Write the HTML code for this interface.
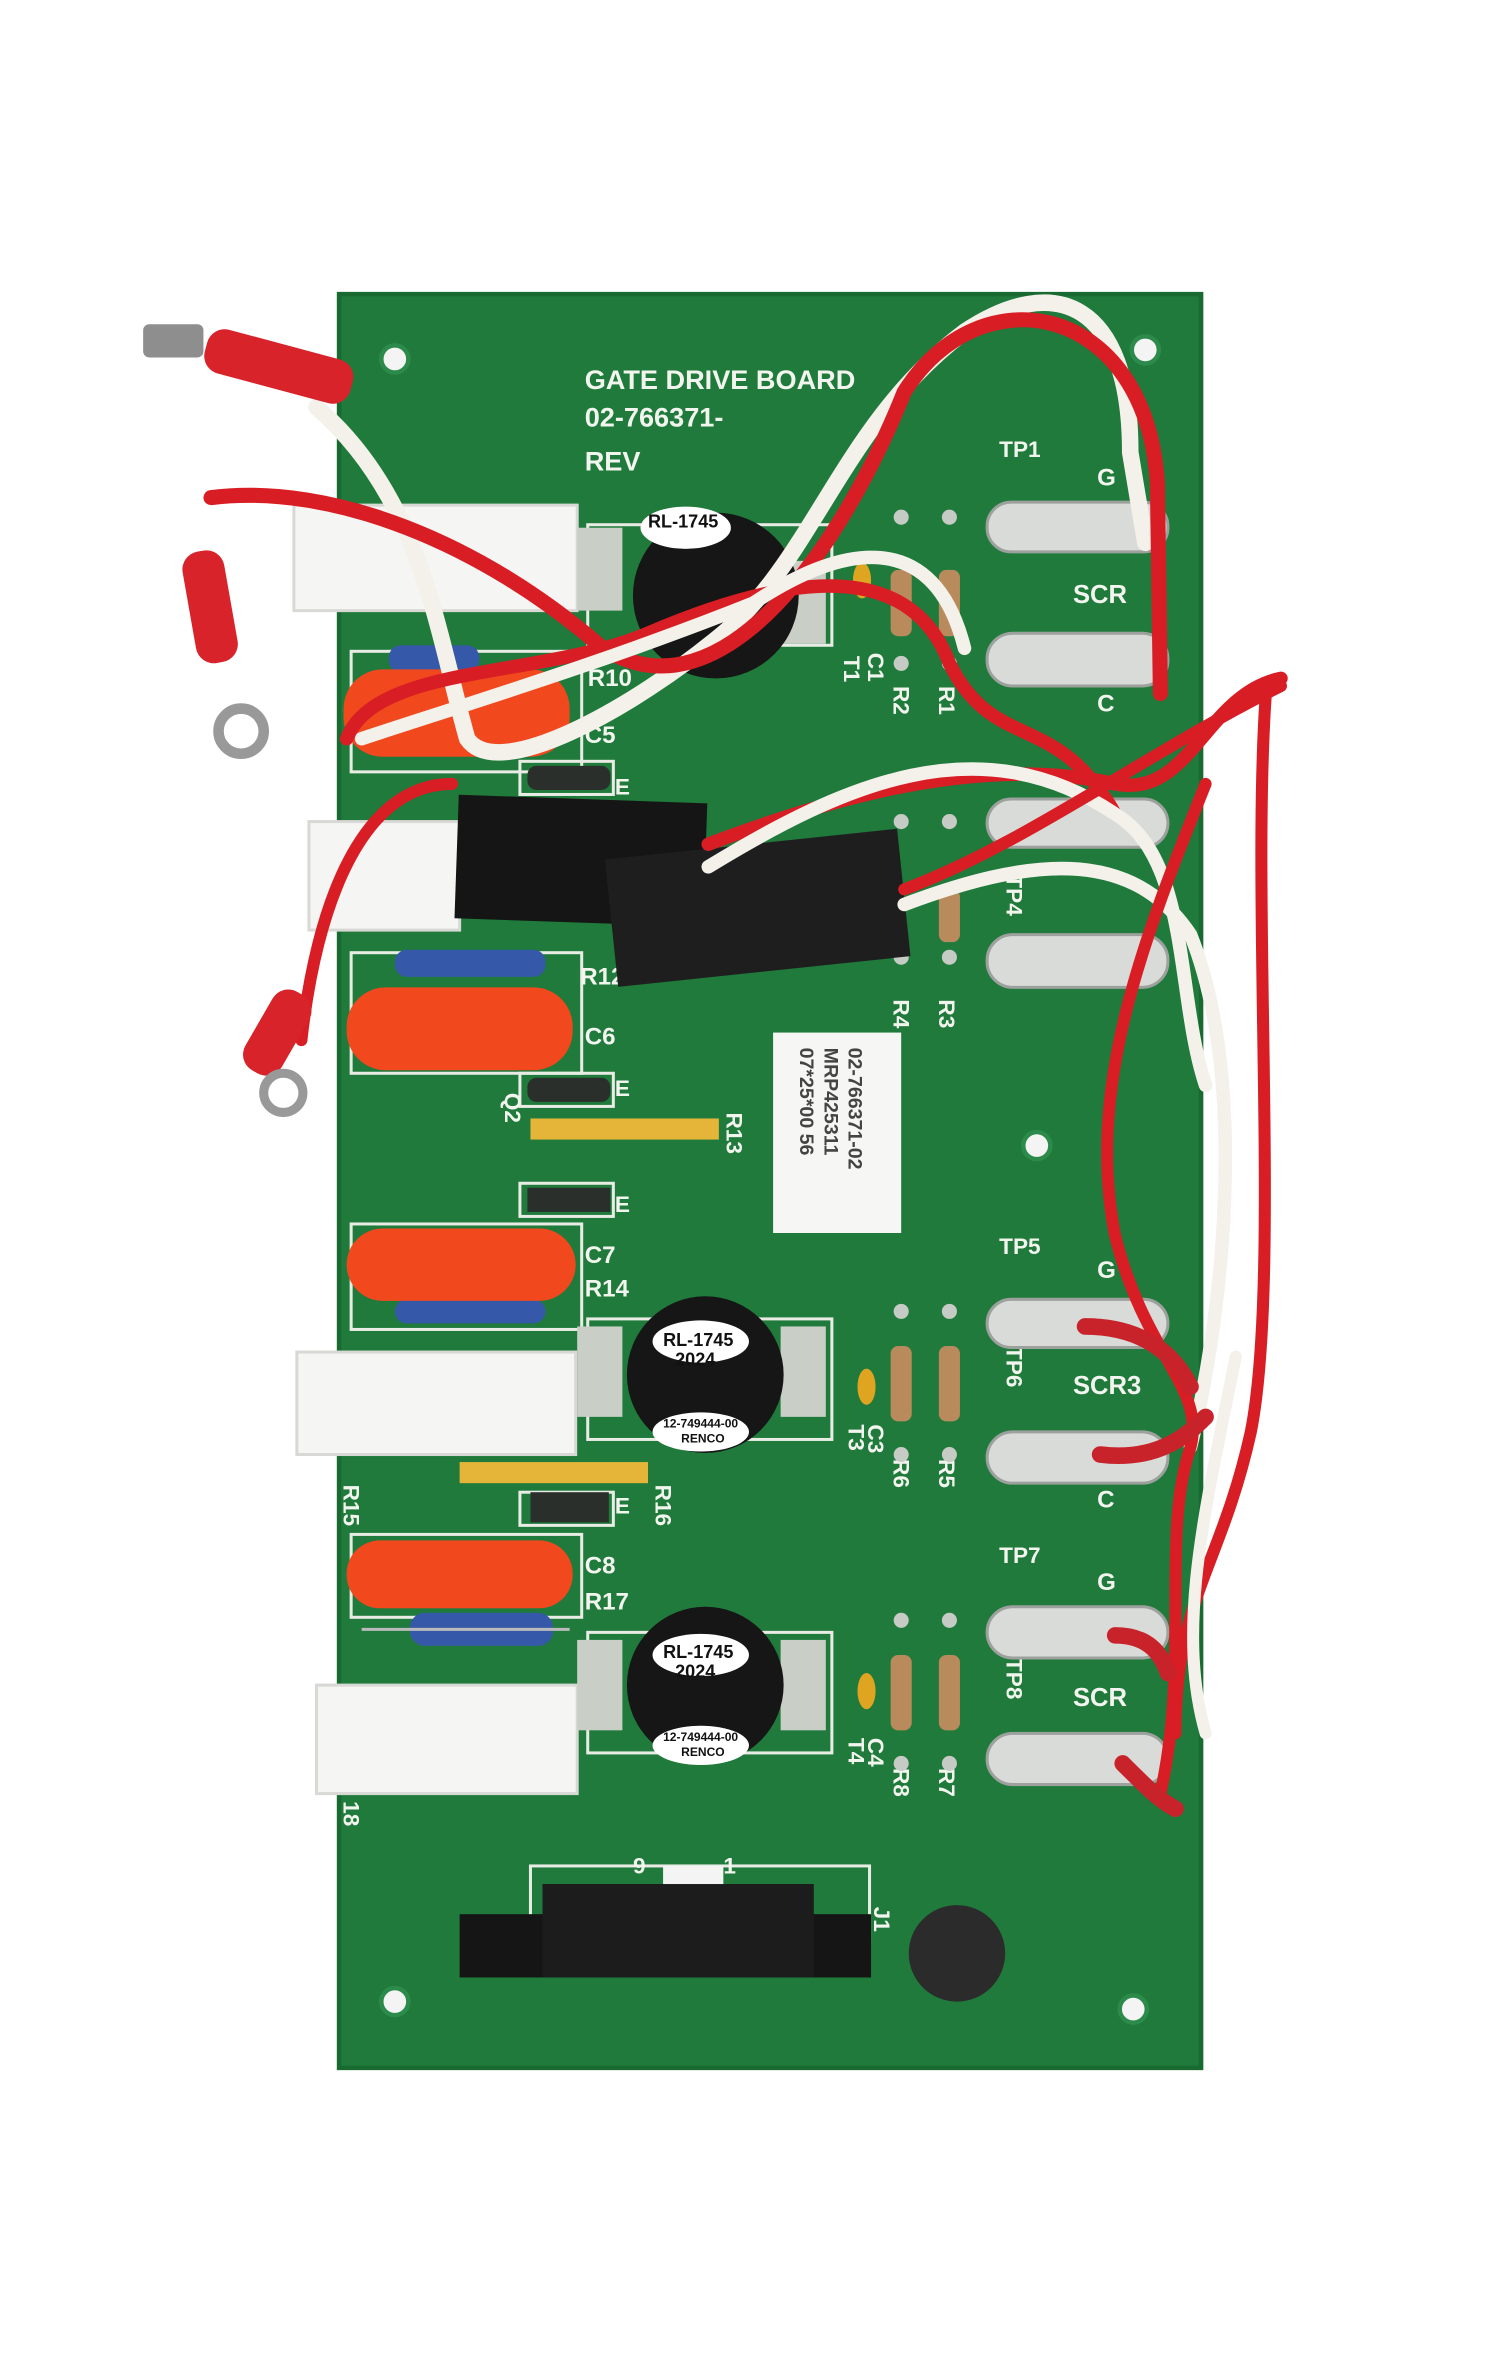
<!DOCTYPE html>
<html><head><meta charset="utf-8"><style>
html,body{margin:0;padding:0;background:#fff;}
svg{display:block}
text{font-family:"Liberation Sans",sans-serif;font-weight:bold;fill:#f2f4ee}
</style></head><body>
<svg width="1507" height="2356" viewBox="0 0 1000 1563" xmlns="http://www.w3.org/2000/svg">
<rect width="1000" height="1563" fill="#fff"/>
<!-- board -->
<rect x="225" y="195" width="572" height="1177" fill="#1f7a3b"/>
<rect x="225" y="195" width="572" height="1177" fill="none" stroke="#186a31" stroke-width="3"/>
<!-- holes -->
<g fill="#f4f4f4" stroke="#2c8a4a" stroke-width="3">
<circle cx="262" cy="238" r="9"/><circle cx="760" cy="232" r="9"/><circle cx="688" cy="760" r="9"/>
<circle cx="262" cy="1328" r="9"/><circle cx="752" cy="1333" r="9"/></g>
<!-- silkscreen outlines -->
<g fill="none" stroke="#e8ece4" stroke-width="2">
<rect x="233" y="432" width="153" height="80"/><rect x="233" y="632" width="153" height="80"/>
<rect x="233" y="812" width="153" height="70"/><rect x="233" y="1018" width="153" height="55"/>
<rect x="345" y="505" width="62" height="22"/><rect x="345" y="712" width="62" height="22"/>
<rect x="345" y="785" width="62" height="22"/><rect x="345" y="990" width="62" height="22"/>
<rect x="390" y="875" width="162" height="80"/><rect x="390" y="1083" width="162" height="80"/>
<rect x="390" y="348" width="162" height="80"/>
<rect x="352" y="1238" width="225" height="50"/>
</g>
<!-- text -->
<text x="388" y="258" font-size="18">GATE DRIVE BOARD</text>
<text x="388" y="283" font-size="18">02-766371-</text>
<text x="388" y="312" font-size="18">REV</text>
<text x="663" y="303" font-size="15">TP1</text><text x="728" y="322" font-size="16">G</text>
<text x="712" y="400" font-size="17">SCR</text><text x="728" y="472" font-size="16">C</text>
<text x="390" y="455" font-size="16">R10</text><text x="388" y="493" font-size="16">C5</text>
<text x="408" y="527" font-size="15">E</text>
<text x="385" y="653" font-size="16">R12</text><text x="388" y="693" font-size="16">C6</text>
<text x="408" y="727" font-size="15">E</text><text x="408" y="804" font-size="15">E</text>
<text x="388" y="838" font-size="16">C7</text><text x="388" y="860" font-size="16">R14</text>
<text x="408" y="1004" font-size="15">E</text>
<text x="388" y="1044" font-size="16">C8</text><text x="388" y="1068" font-size="16">R17</text>
<text x="663" y="832" font-size="15">TP5</text><text x="728" y="848" font-size="16">G</text>
<text x="712" y="925" font-size="17">SCR3</text><text x="728" y="1000" font-size="16">C</text>
<text x="663" y="1037" font-size="15">TP7</text><text x="728" y="1055" font-size="16">G</text>
<text x="712" y="1132" font-size="17">SCR</text>
<text x="420" y="1243" font-size="15">9</text><text x="480" y="1243" font-size="15">1</text>
<g font-size="15">
<text transform="translate(560,435) rotate(90)">T1</text><text transform="translate(563,433) rotate(90)" x="0" y="0"></text>
<text transform="translate(576,433) rotate(90)">C1</text><text transform="translate(593,455) rotate(90)">R2</text><text transform="translate(623,455) rotate(90)">R1</text>
<text transform="translate(593,663) rotate(90)">R4</text><text transform="translate(623,663) rotate(90)">R3</text>
<text transform="translate(563,945) rotate(90)">T3</text><text transform="translate(576,945) rotate(90)">C3</text>
<text transform="translate(593,968) rotate(90)">R6</text><text transform="translate(623,968) rotate(90)">R5</text>
<text transform="translate(563,1153) rotate(90)">T4</text><text transform="translate(576,1153) rotate(90)">C4</text>
<text transform="translate(593,1173) rotate(90)">R8</text><text transform="translate(623,1173) rotate(90)">R7</text>
<text transform="translate(482,738) rotate(90)">R13</text><text transform="translate(435,985) rotate(90)">R16</text>
<text transform="translate(330,815) rotate(90)">Q3</text><text transform="translate(335,725) rotate(90)">Q2</text>
<text transform="translate(580,1265) rotate(90)">J1</text>
<text transform="translate(228,985) rotate(90)">R15</text><text transform="translate(228,1195) rotate(90)">18</text>
<text transform="translate(668,420) rotate(90)">TP2</text><text transform="translate(668,580) rotate(90)">TP4</text>
<text transform="translate(668,893) rotate(90)">TP6</text><text transform="translate(668,1100) rotate(90)">TP8</text>
</g>
<!-- resistor pads / resistors -->
<g fill="#c7cbc5"><circle cx="598" cy="343" r="5"/><circle cx="598" cy="440" r="5"/><circle cx="630" cy="343" r="5"/><circle cx="630" cy="440" r="5"/>
<circle cx="598" cy="545" r="5"/><circle cx="598" cy="635" r="5"/><circle cx="630" cy="545" r="5"/><circle cx="630" cy="635" r="5"/>
<circle cx="598" cy="870" r="5"/><circle cx="598" cy="965" r="5"/><circle cx="630" cy="870" r="5"/><circle cx="630" cy="965" r="5"/>
<circle cx="598" cy="1075" r="5"/><circle cx="598" cy="1170" r="5"/><circle cx="630" cy="1075" r="5"/><circle cx="630" cy="1170" r="5"/></g>
<g fill="#b98b5c"><rect x="591" y="378" width="14" height="44" rx="5"/><rect x="623" y="378" width="14" height="44" rx="5"/>
<rect x="623" y="590" width="14" height="35" rx="5"/>
<rect x="591" y="893" width="14" height="50" rx="5"/><rect x="623" y="893" width="14" height="50" rx="5"/>
<rect x="591" y="1098" width="14" height="50" rx="5"/><rect x="623" y="1098" width="14" height="50" rx="5"/></g>
<g fill="#e0a520"><ellipse cx="572" cy="385" rx="6" ry="12"/><ellipse cx="575" cy="920" rx="6" ry="12"/><ellipse cx="575" cy="1122" rx="6" ry="12"/></g>
<!-- transistors & yellow resistors -->
<g fill="#2a2f2c"><rect x="350" y="508" width="55" height="16" rx="6"/><rect x="350" y="715" width="55" height="16" rx="6"/>
<rect x="350" y="788" width="55" height="16"/><rect x="352" y="990" width="52" height="20"/></g>
<rect x="352" y="742" width="125" height="14" fill="#e5b53a"/>
<rect x="305" y="970" width="125" height="14" fill="#e5b53a"/>
<!-- blue resistors -->
<g fill="#3558a8"><rect x="258" y="428" width="60" height="18" rx="8"/><rect x="262" y="630" width="100" height="18" rx="8"/>
<rect x="262" y="862" width="100" height="16" rx="8"/><rect x="272" y="1070" width="95" height="22" rx="10"/></g>
<line x1="240" y1="1081" x2="378" y2="1081" stroke="#bbb" stroke-width="2"/>
<!-- orange caps -->
<g fill="#f2481e"><rect x="228" y="444" width="150" height="58" rx="26"/><rect x="230" y="655" width="150" height="55" rx="26"/>
<rect x="230" y="815" width="152" height="48" rx="24"/><rect x="230" y="1022" width="150" height="45" rx="22"/></g>
<!-- white blocks -->
<g fill="#f5f5f3" stroke="#d8d8d4" stroke-width="2"><rect x="195" y="335" width="188" height="70"/><rect x="205" y="545" width="100" height="72"/>
<rect x="197" y="897" width="185" height="68"/><rect x="210" y="1118" width="173" height="72"/></g>
<!-- transformers -->
<g fill="#c9cfc6"><rect x="383" y="350" width="30" height="55"/><rect x="518" y="372" width="30" height="55"/>
<rect x="383" y="880" width="30" height="60"/><rect x="518" y="880" width="30" height="60"/>
<rect x="383" y="1088" width="30" height="60"/><rect x="518" y="1088" width="30" height="60"/></g>
<g fill="#161616"><circle cx="475" cy="395" r="55"/><circle cx="468" cy="912" r="52"/><circle cx="468" cy="1118" r="52"/></g>
<g fill="#fff"><ellipse cx="465" cy="890" rx="32" ry="14"/><ellipse cx="465" cy="950" rx="32" ry="13"/>
<ellipse cx="465" cy="1098" rx="32" ry="14"/><ellipse cx="465" cy="1158" rx="32" ry="13"/><ellipse cx="455" cy="350" rx="30" ry="14"/></g>
<g style="font-weight:normal"><text x="440" y="893" font-size="12" style="fill:#111">RL-1745</text><text x="448" y="906" font-size="12" style="fill:#111">2024</text>
<text x="440" y="947" font-size="8" style="fill:#111">12-749444-00</text><text x="452" y="957" font-size="8" style="fill:#111">RENCO</text>
<text x="440" y="1100" font-size="12" style="fill:#111">RL-1745</text><text x="448" y="1113" font-size="12" style="fill:#111">2024</text>
<text x="440" y="1155" font-size="8" style="fill:#111">12-749444-00</text><text x="452" y="1165" font-size="8" style="fill:#111">RENCO</text>
<text x="430" y="350" font-size="12" style="fill:#111">RL-1745</text></g>
<!-- SCR tabs -->
<g fill="#d8dbd8" stroke="#9da19d" stroke-width="2">
<rect x="655" y="333" width="120" height="33" rx="16"/><rect x="655" y="420" width="120" height="35" rx="17"/>
<rect x="655" y="530" width="120" height="32" rx="16"/><rect x="655" y="620" width="120" height="35" rx="17"/>
<rect x="655" y="862" width="120" height="32" rx="16"/><rect x="655" y="950" width="120" height="34" rx="17"/>
<rect x="655" y="1066" width="120" height="34" rx="17"/><rect x="655" y="1150" width="120" height="34" rx="17"/></g>
<!-- label sticker -->
<rect x="513" y="685" width="85" height="133" fill="#f6f6f4"/>
<g style="font-weight:normal;fill:#444" font-size="13"><text transform="translate(563,695) rotate(90)" style="fill:#444">02-766371-02</text>
<text transform="translate(547,695) rotate(90)" style="fill:#444">MRP425311</text><text transform="translate(531,695) rotate(90)" style="fill:#444">07*25*00 56</text></g>
<!-- J1 -->
<rect x="305" y="1270" width="273" height="42" fill="#151515"/>
<rect x="360" y="1250" width="180" height="62" fill="#1c1c1c"/>
<rect x="440" y="1238" width="40" height="12" fill="#f4f4f4"/>
<circle cx="635" cy="1296" r="32" fill="#2b2b2b"/>
<!-- black connectors -->
<rect x="303" y="530" width="165" height="82" fill="#151515" transform="rotate(2 385 570)"/>
<rect x="405" y="560" width="195" height="85" fill="#1e1e1e" transform="rotate(-6 500 600)"/>
<!-- wires -->
<g fill="none" stroke-linecap="round">
<path d="M210 270 C280 330 290 420 310 490 C330 520 420 470 480 420 C540 370 560 280 640 220 C700 180 750 200 750 300 L760 360" stroke="#f4f1ea" stroke-width="11"/>
<path d="M140 330 C220 320 320 360 400 430 C480 480 560 360 600 260 C650 180 760 200 768 320 L770 460" stroke="#d81e24" stroke-width="10"/>
<path d="M230 490 C250 440 360 450 430 420 C500 390 600 360 630 440 C660 500 700 470 740 540" stroke="#d81e24" stroke-width="9"/>
<path d="M240 490 C300 470 400 440 500 400 C560 360 620 350 640 430" stroke="#f4f1ea" stroke-width="9"/>
<path d="M200 690 C210 600 240 520 300 520" stroke="#d81e24" stroke-width="8"/>
<path d="M470 560 C550 530 650 500 740 520 C790 530 800 460 850 450" stroke="#d81e24" stroke-width="9"/>
<path d="M470 575 C560 520 650 480 740 540 C790 570 780 660 800 720" stroke="#f4f1ea" stroke-width="9"/>
<path d="M600 590 C680 560 760 500 850 455" stroke="#d81e24" stroke-width="8"/>
<path d="M600 600 C680 570 750 560 790 620 C830 720 810 880 790 960" stroke="#f4f1ea" stroke-width="9"/>
<path d="M800 520 C760 620 720 720 740 820 C760 900 800 920 790 960 C770 1020 790 1100 770 1190" stroke="#d81e24" stroke-width="8"/>
<path d="M840 460 C830 600 850 850 830 950 C810 1040 780 1060 780 1150" stroke="#d81e24" stroke-width="8"/>
<path d="M820 900 C800 1000 780 1080 800 1150" stroke="#f4f1ea" stroke-width="8"/>
<path d="M720 880 C760 880 780 900 790 920" stroke="#c8232a" stroke-width="11"/>
<path d="M730 965 C770 970 790 950 800 940" stroke="#c8232a" stroke-width="11"/>
<path d="M740 1085 C760 1085 770 1095 775 1110" stroke="#c8232a" stroke-width="11"/>
<path d="M745 1170 C760 1185 770 1195 780 1200" stroke="#c8232a" stroke-width="11"/>
</g>
<!-- terminals -->
<rect x="95" y="215" width="40" height="22" fill="#8e8e8e" rx="4"/>
<rect x="135" y="228" width="100" height="30" rx="12" fill="#d8232a" transform="rotate(15 185 243)"/>
<rect x="125" y="365" width="28" height="75" rx="12" fill="#d8232a" transform="rotate(-10 139 400)"/>
<circle cx="160" cy="485" r="15" fill="none" stroke="#999" stroke-width="7"/>
<rect x="170" y="655" width="28" height="60" rx="12" fill="#d8232a" transform="rotate(30 184 685)"/>
<circle cx="188" cy="725" r="13" fill="none" stroke="#999" stroke-width="6"/>
</svg>
</body></html>
